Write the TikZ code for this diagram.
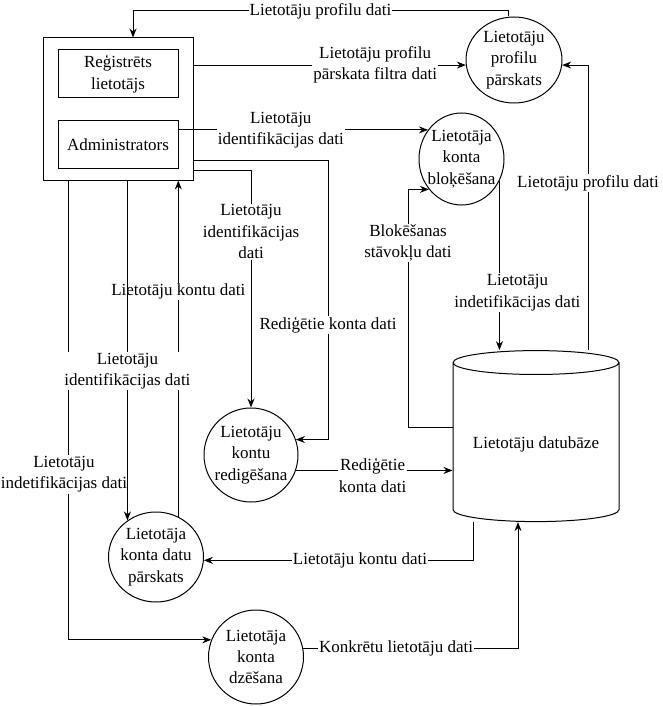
\documentclass[tikz,border=0pt]{standalone}
\usepackage{fontspec}
\setmainfont{Liberation Serif}
\usetikzlibrary{shapes.geometric, arrows.meta, positioning}

\begin{document}
\begin{tikzpicture}[
    x=1pt, y=-1pt,
    font=\fontsize{17}{21.3}\selectfont,
    entity/.style={rectangle, draw, line width=1pt, align=center, inner sep=0pt},
    process/.style={ellipse, draw, line width=1pt, align=center, inner xsep=-6pt, inner ysep=0pt},
    store/.style={cylinder, shape border rotate=90, aspect=0.18, draw, line width=1pt, align=center},
    arrow/.style={line width=1pt, -{Stealth[length=9pt, width=7pt]}},
    flow/.style={fill=white, align=center, inner sep=1pt}
]
\useasboundingbox (0,0) rectangle (663,706);

\node (users) [entity, minimum width=150pt, minimum height=142pt] at (118,109) {};
\node (reg) [entity, minimum width=120pt, minimum height=48pt] at (118,74) {Reģistrēts\\lietotājs};
\node (admin) [entity, minimum width=120pt, minimum height=47pt, below=22pt of reg] {Administrators};

\node (profview) [process, minimum width=96pt, minimum height=86pt] at (514,60) {Lietotāju\\profilu\\pārskats};
\node (block) [process, minimum width=85pt, minimum height=92pt] at (461.5,159) {Lietotāja\\konta\\bloķēšana};
\node (edit) [process, minimum width=94pt, minimum height=94pt] at (251,455) {Lietotāju\\kontu\\redigēšana};
\node (accview) [process, minimum width=95pt, minimum height=90pt] at (156,557) {Lietotāja\\konta datu\\pārskats};
\node (delete) [process, minimum width=95pt, minimum height=94pt] at (256,657) {Lietotāja\\konta\\dzēšana};
\node (db) [store, minimum width=166pt, minimum height=171pt] at (536,444) {Lietotāju datubāze};

\draw [arrow] (profview.north -| 508,0) |- node[flow, pos=0.75] {Lietotāju profilu dati} (133,11) -- (users.north -| 133,0);
\draw [arrow] (users.east |- profview.186) -- node[flow, pos=0.667] {Lietotāju profilu\\pārskata filtra dati} (profview.186);
\draw [arrow] (admin.east |- block.139) -- node[flow, pos=0.41] {Lietotāju\\identifikācijas dati} (block.139);
\draw [arrow] (users.east |- 0,160) -| node[flow, pos=0.795] {Rediģētie konta dati} (edit.19 -| 328,0) -- (edit.19);
\draw [arrow] (users.east |- 0,170) -| node[flow, pos=0.63] {Lietotāju\\identifikācijas\\dati} (edit.north);
\draw [arrow] (accview.61) -- node[flow, pos=0.67] {Lietotāju kontu dati} (accview.61 |- users.south);
\draw [arrow] (users.south -| 68,0) |- node[flow, pos=0.32, xshift=-4pt] {Lietotāju\\indetifikācijas dati} (delete.159);
\draw [arrow] (users.south -| accview.128) -- node[flow, pos=0.56] {Lietotāju\\identifikācijas dati} (accview.128);

\draw [arrow] (block.-30) -- node[flow, pos=0.66, xshift=18pt] {Lietotāju\\indetifikācijas dati} (block.-30 |- db.north);
\draw [arrow] (db.west |- 0,427) -| node[flow, pos=0.887] {Blokēšanas\\stāvokļu dati} (block.223 -| 408,0) -- (block.223);
\draw [arrow] (db.north -| 588,0) |- node[flow, pos=0.293] {Lietotāju profilu dati} (profview.-6);
\draw [arrow] (edit.-19) -- node[flow, pos=0.49, yshift=-5pt] {Rediģētie\\konta dati} (edit.-19 -| db.west);
\draw [arrow] (db.south -| 473,0) |- node[flow, pos=0.71] {Lietotāju kontu dati} (accview.-4);
\draw [arrow] (delete.10) -| node[flow, pos=0.216] {Konkrētu lietotāju dati} (db.south -| 518,0);

\end{tikzpicture}
\end{document}
